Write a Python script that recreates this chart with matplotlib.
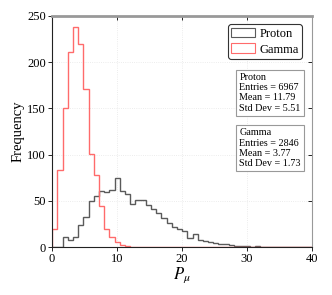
import numpy as np
import matplotlib
matplotlib.use('Agg')
import matplotlib.pyplot as plt
from matplotlib.patches import Patch

# histogram bins: 50 bins of 0.8 over 0..40
bin_lo, bin_hi, n_bins = 0, 40, 50

proton = [0.5, 0.5, 10.8, 8.3, 10.8, 24.5, 32.5, 50, 55.5, 61,
          59.5, 62, 74.5, 61, 58, 47, 51.5, 50.5, 46, 41,
          36.5, 31.3, 26.3, 22, 19.5, 17.5, 10, 14.5, 8, 7,
          5.5, 4.5, 3.5, 3, 2, 1.5, 1, 1, 0.5, 1,
          0.5, 0.5, 0, 0, 0, 0, 0, 0, 0, 0]
gamma = [20, 83, 151, 211.5, 237.5, 220, 171.5, 101, 78.5, 44.5,
         19.5, 11, 5.5, 2, 1, 0.5, 0, 0, 0, 0,
         0, 0, 0, 0, 0, 0, 0, 0, 0, 0,
         0, 0, 0, 0, 0, 0, 0, 0, 0, 0,
         0, 0, 0, 0, 0, 0, 0, 0, 0, 0]

labels = ['Proton', 'Gamma']
stats = [('Proton', 6967, 11.79, 5.51), ('Gamma', 2846, 3.77, 1.73)]
colors = ['#5a5a5a', '#ff6b6b']

plt.rcParams['font.family'] = ['Liberation Serif', 'DejaVu Serif']
plt.rcParams['mathtext.fontset'] = 'stix'

edges = np.linspace(bin_lo, bin_hi, n_bins + 1)

fig = plt.figure(figsize=(3.32, 2.95), dpi=100)
ax = fig.add_axes([0.157, 0.162, 0.783, 0.784])

ax.stairs(proton, edges, color=colors[0], lw=1.0)
ax.stairs(gamma, edges, color=colors[1], lw=1.0)

ax.set_xlim(0, 40)
ax.set_ylim(0, 250)
ax.set_xticks([0, 10, 20, 30, 40])
ax.set_yticks([0, 50, 100, 150, 200, 250])
ax.grid(True, color='#e6e6e6', linestyle=':', linewidth=0.6)
ax.set_axisbelow(True)

ax.spines['left'].set_color('#222222')
ax.spines['bottom'].set_color('#222222')
ax.spines['top'].set_color('#999999')
ax.spines['top'].set_linewidth(2)
ax.spines['right'].set_color('#999999')
ax.tick_params(axis='both', labelsize=9, length=3, width=0.6, direction='out', pad=1.5)
ax.tick_params(top=True, right=True, which='both')
for t in ax.xaxis.get_major_ticks():
    t.tick2line.set_marker(3)
for t in ax.yaxis.get_major_ticks():
    t.tick2line.set_marker(0)

ax.set_xlabel(r'$P_\mu$', fontsize=12, labelpad=0)
ax.set_ylabel('Frequency', fontsize=10.5, labelpad=2)

handles = [Patch(facecolor='white', edgecolor=c, lw=0.8) for c in colors]
leg = ax.legend(handles, labels, loc='upper right', fontsize=9, fancybox=True,
                framealpha=1, edgecolor='#333333', handlelength=1.9, handleheight=0.8,
                borderpad=0.25, labelspacing=0.3, handletextpad=0.35,
                bbox_to_anchor=(0.985, 0.99))
leg.get_frame().set_linewidth(0.8)

for (name, n, mean, sd), y in zip(stats, [0.755, 0.515]):
    txt = f'{name}\nEntries = {n}\nMean = {mean:.2f}\nStd Dev = {sd:.2f}'
    ax.text(0.72, y, txt, transform=ax.transAxes, fontsize=7.3, va='top', ha='left',
            linespacing=1.2,
            bbox=dict(boxstyle='square,pad=0.3', fc='white', ec='#999999', lw=0.8))

fig.savefig('out.png', dpi=100)
